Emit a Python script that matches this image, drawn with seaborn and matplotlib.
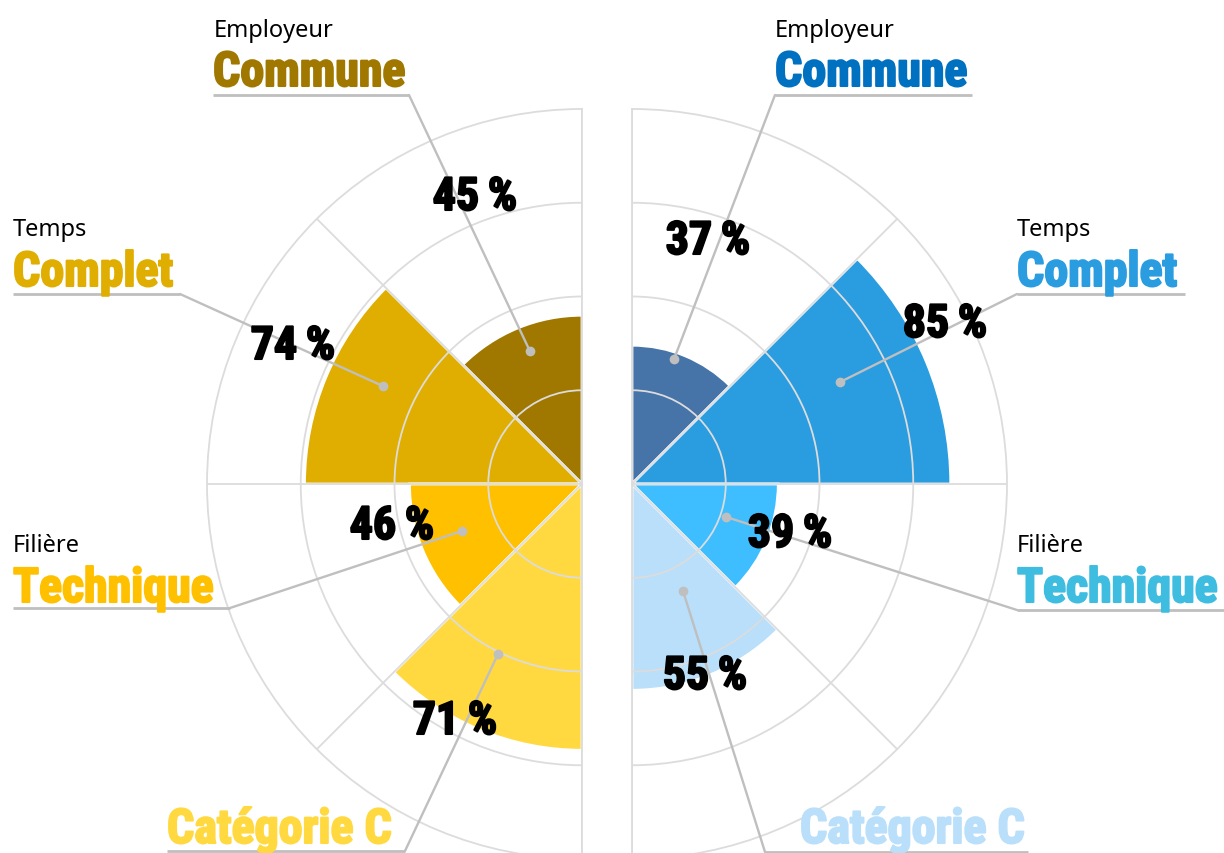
import os
import numpy as np
import matplotlib
matplotlib.use("Agg")
import matplotlib.pyplot as plt
import matplotlib.patheffects as pe
from matplotlib import font_manager as fm
import seaborn as sns

# ---- data ----
categories = ["Commune", "Complet", "Technique", "Catégorie C"]
headers = ["Employeur", "Temps", "Filière", ""]
left_values = [45, 74, 46, 71]
right_values = [37, 85, 39, 55]
left_colors = ["#A07800", "#E0AE00", "#FFC000", "#FFD93F"]
right_colors = ["#4673A8", "#2A9CE0", "#3EBEFF", "#B9DFFA"]
left_text_colors = ["#A07800", "#E0AE00", "#FFC000", "#FFD93F"]
right_text_colors = ["#0070C0", "#2A9CE0", "#3EBDE0", "#B9DFFA"]

# wedge centres (degrees), each wedge is 45 degrees wide
left_theta = [112.5, 157.5, 202.5, 247.5]
right_theta = [67.5, 22.5, -22.5, -67.5]

# ---- label layout (pixels, origin top-left) ----
left_layout = [
    dict(head=(214, 37), title=(213, 87), line=(213, 409, 96), end=(409, 96), dot=(111.4, 38), pct=(475, 198)),
    dict(head=(13, 236), title=(13, 287), line=(13, 180, 295), end=(180, 295), dot=(153.8, 59), pct=(293, 347)),
    dict(head=(13, 552), title=(13, 603), line=(13, 230, 609), end=(230, 609), dot=(201.4, 34.4), pct=(392, 527)),
    dict(head=None, title=(167, 844), line=(167, 405, 852), end=(405, 852), dot=(243.7, 50.6), pct=(455, 722)),
]
right_layout = [
    dict(head=(775, 37), title=(775, 87), line=(775, 972, 96), end=(775, 96), dot=(71.4, 35.2), pct=(708, 242)),
    dict(head=(1017, 236), title=(1017, 287), line=(1017, 1185, 295), end=(1017, 295), dot=(26.1, 61.8), pct=(945, 325)),
    dict(head=(1017, 552), title=(1017, 603), line=(1017, 1224, 611), end=(1017, 611), dot=(-19.3, 26.6), pct=(790, 535)),
    dict(head=None, title=(800, 844), line=(765, 1028, 853), end=(765, 853), dot=(-64.5, 31.6), pct=(705, 677)),
]

sns.set_theme(style="white")


def pick_condensed():
    # heavy condensed face as a stand-in for Impact
    best, best_score = None, -1
    for f in fm.fontManager.ttflist:
        key = (f.name + " " + os.path.basename(f.fname)).lower()
        if not any(k in key for k in ("condensed", "narrow")):
            continue
        if f.style != "normal" or "italic" in key:
            continue
        w = f.weight if isinstance(f.weight, int) else 400
        score = 10 - abs(w - 750) / 100
        if key.startswith("roboto"):
            score += 5
        if score > best_score:
            best, best_score = f, score
    return best


cond = pick_condensed()
if cond is not None:
    bold_fp = dict(fontproperties=fm.FontProperties(fname=cond.fname))
else:
    bold_fp = dict(family=["DejaVu Sans"], fontweight="bold")
small_font = ["Noto Sans", "DejaVu Sans"]

W, H = 1224, 854
R = 375
fig = plt.figure(figsize=(W / 100, H / 100), dpi=100)
fig.patch.set_facecolor("white")

grid_col = "#dcdcdc"
lead_col = "#BFBFBF"


def half_polar(cx, cy, tmin, tmax, frac_x):
    # polar axes limited to half a circle; matplotlib pads the wedge to a square box
    side = 2 * R
    left = cx - frac_x * side
    bottom = (H - cy) - R
    ax = fig.add_axes([left / W, bottom / H, side / W, side / H], projection="polar")
    ax.set_thetamin(tmin)
    ax.set_thetamax(tmax)
    ax.set_ylim(0, 100)
    ax.set_yticks([25, 50, 75])
    ax.set_yticklabels([])
    ax.set_xticks(np.deg2rad(np.arange(tmin, tmax + 1, 45)))
    ax.set_xticklabels([])
    ax.grid(True, color=grid_col, linewidth=1.3)
    ax.set_axisbelow(False)
    for s in ax.spines.values():
        s.set_color(grid_col)
        s.set_linewidth(1.3)
    ax.set_facecolor("none")
    return ax


ax_l = half_polar(582, 485, 90, 270, 0.75)
ax_r = half_polar(632, 485, -90, 90, 0.25)

ax_l.bar(np.deg2rad(left_theta), left_values, width=np.deg2rad(45),
         color=left_colors, edgecolor="white", linewidth=2, zorder=1)
ax_r.bar(np.deg2rad(right_theta), right_values, width=np.deg2rad(45),
         color=right_colors, edgecolor="white", linewidth=2, zorder=1)

# overlay in pixel coordinates for labels and leader lines
ov = fig.add_axes([0, 0, 1, 1], zorder=5)
ov.set_xlim(0, W)
ov.set_ylim(H, 0)
ov.axis("off")
ov.patch.set_alpha(0)

fig.canvas.draw()


def to_px(ax, deg, r):
    d = ax.transData.transform((np.deg2rad(deg), r))
    return ov.transData.inverted().transform(d)


def draw_labels(ax, values, text_colors, layout):
    for cat, head, val, col, lay in zip(categories, headers, values, text_colors, layout):
        if lay["head"] is not None and head:
            ov.text(lay["head"][0], lay["head"][1], head, fontsize=17, family=small_font,
                    color="black", ha="left", va="baseline")
        t = ov.text(lay["title"][0], lay["title"][1], cat, fontsize=34.5, color=col,
                    ha="left", va="baseline", **bold_fp)
        t.set_path_effects([pe.withStroke(linewidth=1.5, foreground=col)])
        x0, x1, y = lay["line"]
        ov.plot([x0, x1], [y, y], color=lead_col, lw=2, solid_capstyle="butt")
        px, py = to_px(ax, *lay["dot"])
        ov.plot([lay["end"][0], px], [lay["end"][1], py], color=lead_col, lw=1.7)
        ov.plot(px, py, "o", color=lead_col, ms=7, mec="none")
        p = ov.text(lay["pct"][0], lay["pct"][1], f"{val}\u2009%", fontsize=33, color="black",
                    ha="center", va="center", **bold_fp)
        p.set_path_effects([pe.withStroke(linewidth=1.5, foreground="black")])


draw_labels(ax_l, left_values, left_text_colors, left_layout)
draw_labels(ax_r, right_values, right_text_colors, right_layout)

fig.savefig("out.png", dpi=100, facecolor="white")
